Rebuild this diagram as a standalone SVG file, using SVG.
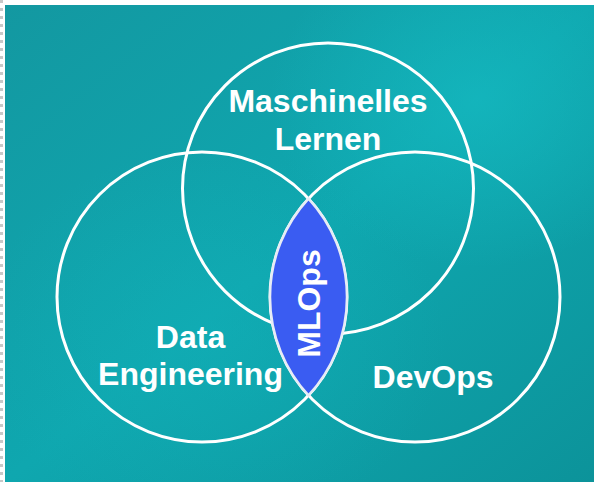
<svg xmlns="http://www.w3.org/2000/svg" width="594" height="482" viewBox="0 0 594 482">
<style>
.ring{fill:none;stroke:#ffffff;stroke-width:3}
.lbl{font-family:"Liberation Sans",Arial,sans-serif;font-weight:bold;font-size:32px;fill:#ffffff;text-anchor:middle}
</style>
<defs>
<linearGradient id="bg" x1="0" y1="0" x2="1" y2="1">
<stop offset="0" stop-color="#1398a1"/>
<stop offset="0.5" stop-color="#0fa7af"/>
<stop offset="1" stop-color="#0c939a"/>
</linearGradient>
<radialGradient id="hl" cx="0.8" cy="0.2" r="0.35">
<stop offset="0" stop-color="#16bdc4" stop-opacity="0.6"/>
<stop offset="1" stop-color="#16bdc4" stop-opacity="0"/>
</radialGradient>
<radialGradient id="hl2" cx="0.35" cy="0.7" r="0.4">
<stop offset="0" stop-color="#12b0b8" stop-opacity="0.5"/>
<stop offset="1" stop-color="#12b0b8" stop-opacity="0"/>
</radialGradient>
</defs>
<rect x="0" y="0" width="594" height="482" fill="#ffffff"/>
<rect x="5" y="5" width="589" height="477" fill="url(#bg)"/>
<rect x="5" y="5" width="589" height="477" fill="url(#hl)"/>
<rect x="5" y="5" width="589" height="477" fill="url(#hl2)"/>
<line x1="1.5" y1="0" x2="1.5" y2="482" stroke="#c8c8c8" stroke-width="3" stroke-dasharray="3,5"/>
<g id="ml">
<circle class="ring" cx="328" cy="188.5" r="145.5"/>
<text class="lbl" x="328" y="112">Maschinelles</text>
<text class="lbl" x="328" y="150">Lernen</text>
</g>
<g id="de">
<circle class="ring" cx="202" cy="297" r="145"/>
<text class="lbl" x="190.5" y="348">Data</text>
<text class="lbl" x="190.5" y="385">Engineering</text>
</g>
<g id="devops">
<circle class="ring" cx="415" cy="297" r="145"/>
<text class="lbl" x="433" y="388">DevOps</text>
</g>
<g id="mlops">
<path d="M308.5 198.6 A145 145 0 0 1 308.5 395.4 A145 145 0 0 1 308.5 198.6 Z" fill="#3a5cf2" stroke="#e6ecf5" stroke-width="2.5"/>
<text class="lbl" transform="translate(320 303.5) rotate(-90)" x="0" y="0">MLOps</text>
</g>
</svg>
